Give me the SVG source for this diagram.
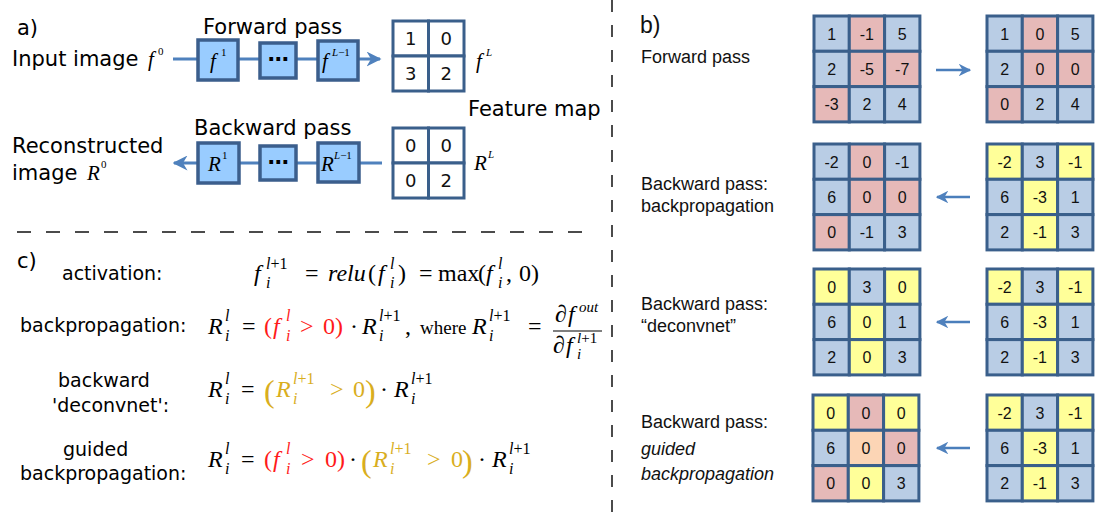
<svg xmlns="http://www.w3.org/2000/svg" width="1105" height="521" viewBox="0 0 1105 521">
<defs>
<style>
.cell{stroke:#3a5f8b;stroke-width:3}
.B{fill:#b9cde5}.P{fill:#e6b9b8}.Y{fill:#ffff99}.O{fill:#fcd5b5}.W{fill:#ffffff}
.num{font-family:'Liberation Sans',Arial,sans-serif;font-size:16px;text-anchor:middle;fill:#111}
.num2{font-family:'DejaVu Sans',sans-serif;font-size:18px;text-anchor:middle;fill:#111}
.lbl{font-family:'Liberation Sans',Arial,sans-serif;font-size:18px;fill:#111}
.dj{font-family:'DejaVu Sans',sans-serif;font-size:21px;fill:#000}
.djc{font-family:'DejaVu Sans',sans-serif;font-size:19px;fill:#000}
.m{font-family:'Liberation Serif','Times New Roman',serif;font-size:21px;fill:#000}
.e{font-family:'Liberation Serif','Times New Roman',serif;font-size:24px;fill:#000}
.mi{font-style:italic}
.s{font-size:16px}
.fs{font-size:15px}
.wh{font-size:19px}
.ss{font-size:11px}
.big{font-size:32px}
.red{fill:#ff1a1a}
.gold{fill:#d9ae1e}
.box{fill:#99ccff;stroke:#3b5e8c;stroke-width:3.5}
.conn{stroke:#4f81bd;stroke-width:3;fill:none}
.arr{stroke:#4a7ebb;stroke-width:2.5;fill:none}
.dash{stroke:#111;stroke-width:1.5;fill:none}
</style>
<marker id="chev" viewBox="0 0 10 10" refX="9" refY="5" markerWidth="5" markerHeight="5" orient="auto" markerUnits="strokeWidth">
<path d="M0,0 L10,5 L0,10 L3,5 z" fill="#4f81bd"/>
</marker>
</defs>
<rect width="1105" height="521" fill="#ffffff"/>

<g id="separators">
<line class="dash" x1="612" y1="0" x2="612" y2="521" stroke-dasharray="12 13"/>
<line class="dash" x1="17" y1="232" x2="586" y2="232" stroke-dasharray="14 15"/>
</g>

<g id="connectors">
<path class="conn" d="M173,59 L380,59" marker-end="url(#chev)"/>
<path class="conn" d="M382,163 L174,163" marker-end="url(#chev)"/>
<path class="arr" d="M936,70 L970,70" marker-end="url(#chev)"/>
<path class="arr" d="M970,197 L937,197" marker-end="url(#chev)"/>
<path class="arr" d="M970,322 L937,322" marker-end="url(#chev)"/>
<path class="arr" d="M970,448 L937,448" marker-end="url(#chev)"/>
</g>

<g id="a-labels">
<text class="dj" x="17" y="35">a)</text>
<text class="dj" x="203" y="34">Forward pass</text>
<text class="dj" x="12" y="66">Input image</text>
<text class="m mi" x="148" y="66">f</text>
<text class="m ss" x="158" y="55">0</text>
<text class="dj" x="194" y="135">Backward pass</text>
<text class="dj" x="468" y="116">Feature map</text>
<text class="dj" x="12" y="153">Reconstructed</text>
<text class="dj" x="12" y="180">image</text>
<text class="m mi" x="87" y="180">R</text>
<text class="m ss" x="101" y="168">0</text>
<text class="m mi" x="476" y="68">f</text>
<text class="m ss mi" x="486" y="56">L</text>
<text class="m mi" x="474" y="170">R</text>
<text class="m ss mi" x="488" y="158">L</text>
</g>
<g id="box-f1">
<rect class="box" x="198" y="40" width="40" height="40"/>
<text class="m mi" x="210" y="68">f</text>
<text class="m ss" x="221" y="56">1</text>
</g>
<g id="box-fdots">
<rect class="box" x="260" y="43" width="36" height="35"/>
<text class="dj" x="278" y="66" text-anchor="middle" font-weight="bold">⋯</text>
</g>
<g id="box-fL1">
<rect class="box" x="318" y="41" width="40" height="39"/>
<text class="m mi" x="322" y="68">f</text>
<text class="m ss" x="332" y="56"><tspan class="mi">L</tspan>−1</text>
</g>
<g id="box-R1">
<rect class="box" x="198" y="143" width="41" height="40"/>
<text class="m mi" x="208" y="171">R</text>
<text class="m ss" x="222" y="159">1</text>
</g>
<g id="box-Rdots">
<rect class="box" x="260" y="146" width="36" height="34"/>
<text class="dj" x="278" y="169" text-anchor="middle" font-weight="bold">⋯</text>
</g>
<g id="box-RL1">
<rect class="box" x="318" y="143" width="41" height="39"/>
<text class="m mi" x="321" y="171">R</text>
<text class="m ss" x="334" y="159"><tspan class="mi">L</tspan>−1</text>
</g>
<g id="fmap-fwd" transform="translate(393,21)">
<rect class="cell W" x="0" y="0" width="35.5" height="35" stroke-width="3.5"/>
<rect class="cell W" x="35.5" y="0" width="35.5" height="35" stroke-width="3.5"/>
<rect class="cell W" x="0" y="35" width="35.5" height="35" stroke-width="3.5"/>
<rect class="cell W" x="35.5" y="35" width="35.5" height="35" stroke-width="3.5"/>
<text class="num2" x="17.7" y="24">1</text>
<text class="num2" x="53.2" y="24">0</text>
<text class="num2" x="17.7" y="59">3</text>
<text class="num2" x="53.2" y="59">2</text>
</g>
<g id="fmap-bwd" transform="translate(393,128)">
<rect class="cell W" x="0" y="0" width="35.5" height="35" stroke-width="3.5"/>
<rect class="cell W" x="35.5" y="0" width="35.5" height="35" stroke-width="3.5"/>
<rect class="cell W" x="0" y="35" width="35.5" height="35" stroke-width="3.5"/>
<rect class="cell W" x="35.5" y="35" width="35.5" height="35" stroke-width="3.5"/>
<text class="num2" x="17.7" y="24">0</text>
<text class="num2" x="53.2" y="24">0</text>
<text class="num2" x="17.7" y="59">0</text>
<text class="num2" x="53.2" y="59">2</text>
</g>

<g id="c-labels">
<text class="dj" x="17" y="268">c)</text>
<text class="djc" x="62" y="280">activation:</text>
<text class="djc" x="20" y="332">backpropagation:</text>
<text class="djc" x="58" y="387">backward</text>
<text class="djc" x="52" y="412">'deconvnet':</text>
<text class="djc" x="63" y="456">guided</text>
<text class="djc" x="20" y="480">backpropagation:</text>
</g>
<g id="eq-activation">
<text class="e mi" x="254" y="281">f</text>
<text class="e s" x="266" y="269"><tspan class="mi">l</tspan>+1</text>
<text class="e s mi" x="266" y="288">i</text>
<text class="e" x="305" y="281">=</text>
<text class="e mi" x="328" y="281">relu</text>
<text class="e" x="368" y="281">(</text>
<text class="e mi" x="378" y="281">f</text>
<text class="e s mi" x="390" y="269">l</text>
<text class="e s mi" x="390" y="288">i</text>
<text class="e" x="398" y="281">)</text>
<text class="e" x="419" y="281">=</text>
<text class="e" x="438" y="281">max</text>
<text class="e" x="478" y="281">(</text>
<text class="e mi" x="486" y="281">f</text>
<text class="e s mi" x="498" y="269">l</text>
<text class="e s mi" x="498" y="288">i</text>
<text class="e" x="506" y="281">,</text>
<text class="e" x="519" y="281">0</text>
<text class="e" x="531" y="281">)</text>
</g>
<g id="eq-backprop">
<text class="e mi" x="208" y="334">R</text>
<text class="e s mi" x="225" y="321">l</text>
<text class="e s mi" x="225" y="341">i</text>
<text class="e" x="242" y="334">=</text>
<text class="e red" x="264" y="334">(</text>
<text class="e mi red" x="273" y="334">f</text>
<text class="e s mi red" x="286" y="321">l</text>
<text class="e s mi red" x="286" y="341">i</text>
<text class="e red" x="300" y="334">&gt;</text>
<text class="e red" x="323" y="334">0</text>
<text class="e red" x="335" y="334">)</text>
<text class="e" x="350" y="334">·</text>
<text class="e mi" x="362" y="334">R</text>
<text class="e s" x="379" y="321"><tspan class="mi">l</tspan>+1</text>
<text class="e s mi" x="379" y="341">i</text>
<text class="e" x="405" y="334">,</text>
<text class="e wh" x="420" y="334">where</text>
<text class="e mi" x="472" y="334">R</text>
<text class="e s" x="489" y="321"><tspan class="mi">l</tspan>+1</text>
<text class="e s mi" x="489" y="341">i</text>
<text class="e" x="528" y="334">=</text>
<text class="e" x="555" y="322">∂</text>
<text class="e mi" x="568" y="322">f</text>
<text class="e fs mi" x="579" y="312">out</text>
<line x1="553" y1="331" x2="602" y2="331" stroke="#000" stroke-width="1.2"/>
<text class="e" x="553" y="353">∂</text>
<text class="e mi" x="566" y="353">f</text>
<text class="e fs" x="577" y="343"><tspan class="mi">l</tspan>+1</text>
<text class="e fs mi" x="577" y="359">i</text>
</g>
<g id="eq-deconvnet">
<text class="e mi" x="208" y="397">R</text>
<text class="e s mi" x="225" y="384">l</text>
<text class="e s mi" x="225" y="404">i</text>
<text class="e" x="241" y="397">=</text>
<text class="e big gold" x="264" y="402">(</text>
<text class="e mi gold" x="276" y="397">R</text>
<text class="e s gold" x="293" y="384"><tspan class="mi">l</tspan>+1</text>
<text class="e s mi gold" x="293" y="404">i</text>
<text class="e gold" x="330" y="397">&gt;</text>
<text class="e gold" x="353" y="397">0</text>
<text class="e big gold" x="365" y="402">)</text>
<text class="e" x="380" y="397">·</text>
<text class="e mi" x="394" y="397">R</text>
<text class="e s" x="411" y="384"><tspan class="mi">l</tspan>+1</text>
<text class="e s mi" x="411" y="404">i</text>
</g>
<g id="eq-guided">
<text class="e mi" x="208" y="467">R</text>
<text class="e s mi" x="225" y="454">l</text>
<text class="e s mi" x="225" y="474">i</text>
<text class="e" x="241" y="467">=</text>
<text class="e red" x="264" y="467">(</text>
<text class="e mi red" x="273" y="467">f</text>
<text class="e s mi red" x="286" y="454">l</text>
<text class="e s mi red" x="286" y="474">i</text>
<text class="e red" x="301" y="467">&gt;</text>
<text class="e red" x="325" y="467">0</text>
<text class="e red" x="337" y="467">)</text>
<text class="e" x="349" y="467">·</text>
<text class="e big gold" x="361" y="472">(</text>
<text class="e mi gold" x="373" y="467">R</text>
<text class="e s gold" x="390" y="454"><tspan class="mi">l</tspan>+1</text>
<text class="e s mi gold" x="390" y="474">i</text>
<text class="e gold" x="427" y="467">&gt;</text>
<text class="e gold" x="451" y="467">0</text>
<text class="e big gold" x="462" y="472">)</text>
<text class="e" x="478" y="467">·</text>
<text class="e mi" x="492" y="467">R</text>
<text class="e s" x="509" y="454"><tspan class="mi">l</tspan>+1</text>
<text class="e s mi" x="509" y="474">i</text>
</g>

<g id="b-labels">
<text class="lbl" x="640" y="33" style="font-size:23px">b)</text>
<text class="lbl" x="641" y="63">Forward pass</text>
<text class="lbl" x="641" y="190">Backward pass:</text>
<text class="lbl" x="641" y="212">backpropagation</text>
<text class="lbl" x="641" y="310">Backward pass:</text>
<text class="lbl" x="641" y="332">“deconvnet”</text>
<text class="lbl" x="641" y="428">Backward pass:</text>
<text class="lbl mi" x="641" y="455">guided</text>
<text class="lbl mi" x="641" y="480">backpropagation</text>
</g>

<g id="grid-fwd-in" transform="translate(814,16)">
<rect class="cell B" x="0" y="0" width="35.3" height="35.3"/><rect class="cell P" x="35.3" y="0" width="35.3" height="35.3"/><rect class="cell B" x="70.6" y="0" width="35.3" height="35.3"/>
<rect class="cell B" x="0" y="35.3" width="35.3" height="35.3"/><rect class="cell P" x="35.3" y="35.3" width="35.3" height="35.3"/><rect class="cell P" x="70.6" y="35.3" width="35.3" height="35.3"/>
<rect class="cell P" x="0" y="70.6" width="35.3" height="35.3"/><rect class="cell B" x="35.3" y="70.6" width="35.3" height="35.3"/><rect class="cell B" x="70.6" y="70.6" width="35.3" height="35.3"/>
<text class="num" x="17.6" y="23.5">1</text><text class="num" x="52.9" y="23.5">-1</text><text class="num" x="88.2" y="23.5">5</text>
<text class="num" x="17.6" y="58.8">2</text><text class="num" x="52.9" y="58.8">-5</text><text class="num" x="88.2" y="58.8">-7</text>
<text class="num" x="17.6" y="94.1">-3</text><text class="num" x="52.9" y="94.1">2</text><text class="num" x="88.2" y="94.1">4</text>
</g>
<g id="grid-fwd-out" transform="translate(987,16)">
<rect class="cell B" x="0" y="0" width="35.3" height="35.3"/><rect class="cell P" x="35.3" y="0" width="35.3" height="35.3"/><rect class="cell B" x="70.6" y="0" width="35.3" height="35.3"/>
<rect class="cell B" x="0" y="35.3" width="35.3" height="35.3"/><rect class="cell P" x="35.3" y="35.3" width="35.3" height="35.3"/><rect class="cell P" x="70.6" y="35.3" width="35.3" height="35.3"/>
<rect class="cell P" x="0" y="70.6" width="35.3" height="35.3"/><rect class="cell B" x="35.3" y="70.6" width="35.3" height="35.3"/><rect class="cell B" x="70.6" y="70.6" width="35.3" height="35.3"/>
<text class="num" x="17.6" y="23.5">1</text><text class="num" x="52.9" y="23.5">0</text><text class="num" x="88.2" y="23.5">5</text>
<text class="num" x="17.6" y="58.8">2</text><text class="num" x="52.9" y="58.8">0</text><text class="num" x="88.2" y="58.8">0</text>
<text class="num" x="17.6" y="94.1">0</text><text class="num" x="52.9" y="94.1">2</text><text class="num" x="88.2" y="94.1">4</text>
</g>

<g id="grid-bp-out" transform="translate(814,144)">
<rect class="cell B" x="0" y="0" width="35.3" height="35.3"/><rect class="cell P" x="35.3" y="0" width="35.3" height="35.3"/><rect class="cell B" x="70.6" y="0" width="35.3" height="35.3"/>
<rect class="cell B" x="0" y="35.3" width="35.3" height="35.3"/><rect class="cell P" x="35.3" y="35.3" width="35.3" height="35.3"/><rect class="cell P" x="70.6" y="35.3" width="35.3" height="35.3"/>
<rect class="cell P" x="0" y="70.6" width="35.3" height="35.3"/><rect class="cell B" x="35.3" y="70.6" width="35.3" height="35.3"/><rect class="cell B" x="70.6" y="70.6" width="35.3" height="35.3"/>
<text class="num" x="17.6" y="23.5">-2</text><text class="num" x="52.9" y="23.5">0</text><text class="num" x="88.2" y="23.5">-1</text>
<text class="num" x="17.6" y="58.8">6</text><text class="num" x="52.9" y="58.8">0</text><text class="num" x="88.2" y="58.8">0</text>
<text class="num" x="17.6" y="94.1">0</text><text class="num" x="52.9" y="94.1">-1</text><text class="num" x="88.2" y="94.1">3</text>
</g>
<g id="grid-bp-in" transform="translate(987,144)">
<rect class="cell Y" x="0" y="0" width="35.3" height="35.3"/><rect class="cell B" x="35.3" y="0" width="35.3" height="35.3"/><rect class="cell Y" x="70.6" y="0" width="35.3" height="35.3"/>
<rect class="cell B" x="0" y="35.3" width="35.3" height="35.3"/><rect class="cell Y" x="35.3" y="35.3" width="35.3" height="35.3"/><rect class="cell B" x="70.6" y="35.3" width="35.3" height="35.3"/>
<rect class="cell B" x="0" y="70.6" width="35.3" height="35.3"/><rect class="cell Y" x="35.3" y="70.6" width="35.3" height="35.3"/><rect class="cell B" x="70.6" y="70.6" width="35.3" height="35.3"/>
<text class="num" x="17.6" y="23.5">-2</text><text class="num" x="52.9" y="23.5">3</text><text class="num" x="88.2" y="23.5">-1</text>
<text class="num" x="17.6" y="58.8">6</text><text class="num" x="52.9" y="58.8">-3</text><text class="num" x="88.2" y="58.8">1</text>
<text class="num" x="17.6" y="94.1">2</text><text class="num" x="52.9" y="94.1">-1</text><text class="num" x="88.2" y="94.1">3</text>
</g>

<g id="grid-dc-out" transform="translate(814,269)">
<rect class="cell Y" x="0" y="0" width="35.3" height="35.3"/><rect class="cell B" x="35.3" y="0" width="35.3" height="35.3"/><rect class="cell Y" x="70.6" y="0" width="35.3" height="35.3"/>
<rect class="cell B" x="0" y="35.3" width="35.3" height="35.3"/><rect class="cell Y" x="35.3" y="35.3" width="35.3" height="35.3"/><rect class="cell B" x="70.6" y="35.3" width="35.3" height="35.3"/>
<rect class="cell B" x="0" y="70.6" width="35.3" height="35.3"/><rect class="cell Y" x="35.3" y="70.6" width="35.3" height="35.3"/><rect class="cell B" x="70.6" y="70.6" width="35.3" height="35.3"/>
<text class="num" x="17.6" y="23.5">0</text><text class="num" x="52.9" y="23.5">3</text><text class="num" x="88.2" y="23.5">0</text>
<text class="num" x="17.6" y="58.8">6</text><text class="num" x="52.9" y="58.8">0</text><text class="num" x="88.2" y="58.8">1</text>
<text class="num" x="17.6" y="94.1">2</text><text class="num" x="52.9" y="94.1">0</text><text class="num" x="88.2" y="94.1">3</text>
</g>
<g id="grid-dc-in" transform="translate(987,269)">
<rect class="cell Y" x="0" y="0" width="35.3" height="35.3"/><rect class="cell B" x="35.3" y="0" width="35.3" height="35.3"/><rect class="cell Y" x="70.6" y="0" width="35.3" height="35.3"/>
<rect class="cell B" x="0" y="35.3" width="35.3" height="35.3"/><rect class="cell Y" x="35.3" y="35.3" width="35.3" height="35.3"/><rect class="cell B" x="70.6" y="35.3" width="35.3" height="35.3"/>
<rect class="cell B" x="0" y="70.6" width="35.3" height="35.3"/><rect class="cell Y" x="35.3" y="70.6" width="35.3" height="35.3"/><rect class="cell B" x="70.6" y="70.6" width="35.3" height="35.3"/>
<text class="num" x="17.6" y="23.5">-2</text><text class="num" x="52.9" y="23.5">3</text><text class="num" x="88.2" y="23.5">-1</text>
<text class="num" x="17.6" y="58.8">6</text><text class="num" x="52.9" y="58.8">-3</text><text class="num" x="88.2" y="58.8">1</text>
<text class="num" x="17.6" y="94.1">2</text><text class="num" x="52.9" y="94.1">-1</text><text class="num" x="88.2" y="94.1">3</text>
</g>

<g id="grid-gb-out" transform="translate(813,395)">
<rect class="cell Y" x="0" y="0" width="35.3" height="35.3"/><rect class="cell P" x="35.3" y="0" width="35.3" height="35.3"/><rect class="cell Y" x="70.6" y="0" width="35.3" height="35.3"/>
<rect class="cell B" x="0" y="35.3" width="35.3" height="35.3"/><rect class="cell O" x="35.3" y="35.3" width="35.3" height="35.3"/><rect class="cell P" x="70.6" y="35.3" width="35.3" height="35.3"/>
<rect class="cell P" x="0" y="70.6" width="35.3" height="35.3"/><rect class="cell Y" x="35.3" y="70.6" width="35.3" height="35.3"/><rect class="cell B" x="70.6" y="70.6" width="35.3" height="35.3"/>
<text class="num" x="17.6" y="23.5">0</text><text class="num" x="52.9" y="23.5">0</text><text class="num" x="88.2" y="23.5">0</text>
<text class="num" x="17.6" y="58.8">6</text><text class="num" x="52.9" y="58.8">0</text><text class="num" x="88.2" y="58.8">0</text>
<text class="num" x="17.6" y="94.1">0</text><text class="num" x="52.9" y="94.1">0</text><text class="num" x="88.2" y="94.1">3</text>
</g>
<g id="grid-gb-in" transform="translate(987,395)">
<rect class="cell Y" x="0" y="0" width="35.3" height="35.3"/><rect class="cell B" x="35.3" y="0" width="35.3" height="35.3"/><rect class="cell Y" x="70.6" y="0" width="35.3" height="35.3"/>
<rect class="cell B" x="0" y="35.3" width="35.3" height="35.3"/><rect class="cell Y" x="35.3" y="35.3" width="35.3" height="35.3"/><rect class="cell B" x="70.6" y="35.3" width="35.3" height="35.3"/>
<rect class="cell B" x="0" y="70.6" width="35.3" height="35.3"/><rect class="cell Y" x="35.3" y="70.6" width="35.3" height="35.3"/><rect class="cell B" x="70.6" y="70.6" width="35.3" height="35.3"/>
<text class="num" x="17.6" y="23.5">-2</text><text class="num" x="52.9" y="23.5">3</text><text class="num" x="88.2" y="23.5">-1</text>
<text class="num" x="17.6" y="58.8">6</text><text class="num" x="52.9" y="58.8">-3</text><text class="num" x="88.2" y="58.8">1</text>
<text class="num" x="17.6" y="94.1">2</text><text class="num" x="52.9" y="94.1">-1</text><text class="num" x="88.2" y="94.1">3</text>
</g>
</svg>
